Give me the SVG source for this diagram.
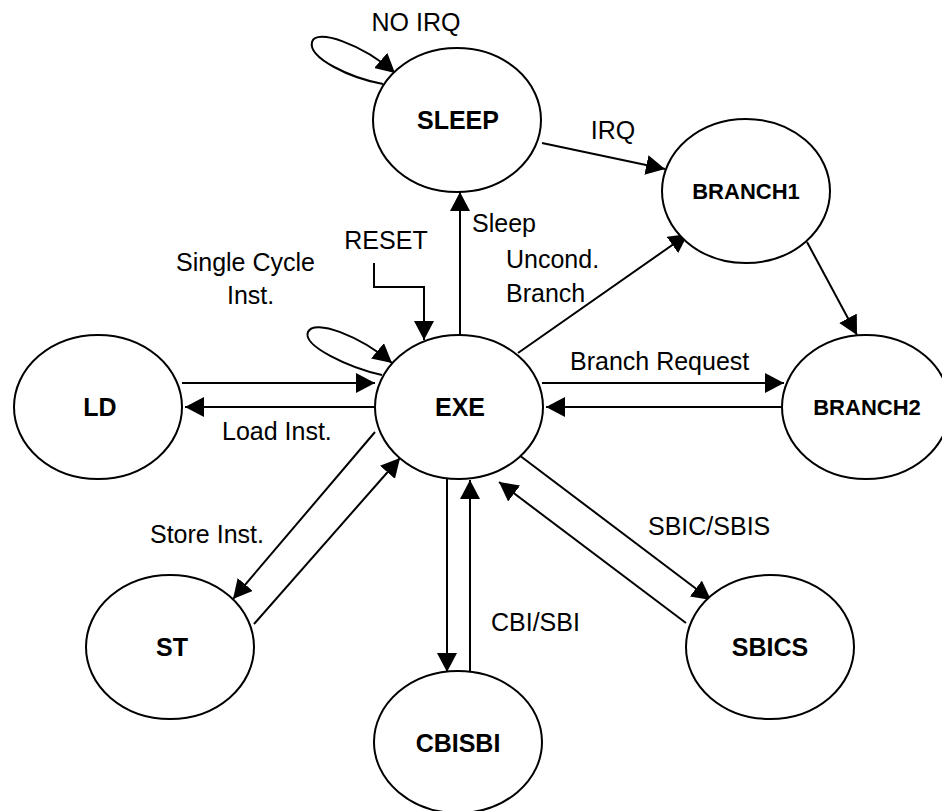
<svg xmlns="http://www.w3.org/2000/svg" width="942" height="811" viewBox="0 0 942 811">
<style>
.node{fill:#fff;stroke:#000;stroke-width:2}
.lbl{font-family:"Liberation Sans",Arial,sans-serif;font-weight:bold;font-size:25px;text-anchor:middle;fill:#000}
.sm{font-size:22px}
.edge{fill:none;stroke:#000;stroke-width:2;marker-end:url(#ah)}
.plain{fill:none;stroke:#000;stroke-width:2}
.txt{font-family:"Liberation Sans",Arial,sans-serif;font-size:25px;fill:#000}
</style>
<defs>
<marker id="ah" markerUnits="userSpaceOnUse" markerWidth="20" markerHeight="20" refX="19" refY="10" orient="auto">
<path d="M0,0 L19,10 L0,20 z" fill="#000"/>
</marker>
</defs>
<rect width="942" height="811" fill="#fff"/>
<g id="connectors">
<path class="edge" d="M383,84 C350,78 308,58 312,42 C316,28 362,44 395,73"/>
<path class="edge" d="M382,375 C350,368 302,346 308,332 C314,318 360,336 392,363"/>
<path class="edge" d="M374,263 L374,287 L424,287 L424,340"/>
<line class="edge" x1="542" y1="143" x2="665" y2="169"/>
<line class="edge" x1="460" y1="335" x2="460" y2="192"/>
<line class="edge" x1="518" y1="353" x2="688" y2="234"/>
<line class="edge" x1="807" y1="242" x2="857" y2="335"/>
<line class="edge" x1="542" y1="383" x2="784" y2="383"/>
<line class="edge" x1="782" y1="407" x2="546" y2="407"/>
<line class="edge" x1="182" y1="383" x2="375" y2="383"/>
<line class="edge" x1="374" y1="407" x2="185" y2="407"/>
<line class="edge" x1="375" y1="432" x2="233" y2="599"/>
<line class="edge" x1="254" y1="624" x2="400" y2="458"/>
<line class="edge" x1="447" y1="479" x2="447" y2="672"/>
<line class="edge" x1="470" y1="671" x2="470" y2="480"/>
<line class="edge" x1="519" y1="455" x2="711" y2="600"/>
<line class="edge" x1="686" y1="623" x2="499" y2="482"/>
<text class="txt" x="416" y="31" text-anchor="middle">NO IRQ</text>
<text class="txt" x="613" y="139" text-anchor="middle">IRQ</text>
<text class="txt" x="472" y="232">Sleep</text>
<text class="txt" x="386" y="249" text-anchor="middle">RESET</text>
<text class="txt" x="176" y="271">Single Cycle</text>
<text class="txt" x="227" y="304">Inst.</text>
<text class="txt" x="506" y="268">Uncond.</text>
<text class="txt" x="506" y="302">Branch</text>
<text class="txt" x="570" y="370">Branch Request</text>
<text class="txt" x="222" y="440">Load Inst.</text>
<text class="txt" x="150" y="543">Store Inst.</text>
<text class="txt" x="491" y="631">CBI/SBI</text>
<text class="txt" x="648" y="535">SBIC/SBIS</text>
</g>
<g id="SLEEP"><ellipse class="node" cx="457" cy="120" rx="84" ry="72"/><text class="lbl" x="458" y="129">SLEEP</text></g>
<g id="EXE"><ellipse class="node" cx="459" cy="407" rx="84" ry="72"/><text class="lbl" x="460" y="416">EXE</text></g>
<g id="LD"><ellipse class="node" cx="98" cy="407" rx="84" ry="72"/><text class="lbl" x="100" y="416">LD</text></g>
<g id="ST"><ellipse class="node" cx="170" cy="647" rx="84" ry="72"/><text class="lbl" x="172" y="656">ST</text></g>
<g id="CBISBI"><ellipse class="node" cx="458" cy="742" rx="84" ry="71"/><text class="lbl" x="458" y="752">CBISBI</text></g>
<g id="SBICS"><ellipse class="node" cx="770" cy="647" rx="84" ry="72"/><text class="lbl" x="770" y="656">SBICS</text></g>
<g id="BRANCH1"><ellipse class="node" cx="746" cy="191" rx="84" ry="72"/><text class="lbl sm" x="746" y="199">BRANCH1</text></g>
<g id="BRANCH2"><ellipse class="node" cx="866" cy="407" rx="84" ry="72"/><text class="lbl sm" x="867" y="415">BRANCH2</text></g>
</svg>
